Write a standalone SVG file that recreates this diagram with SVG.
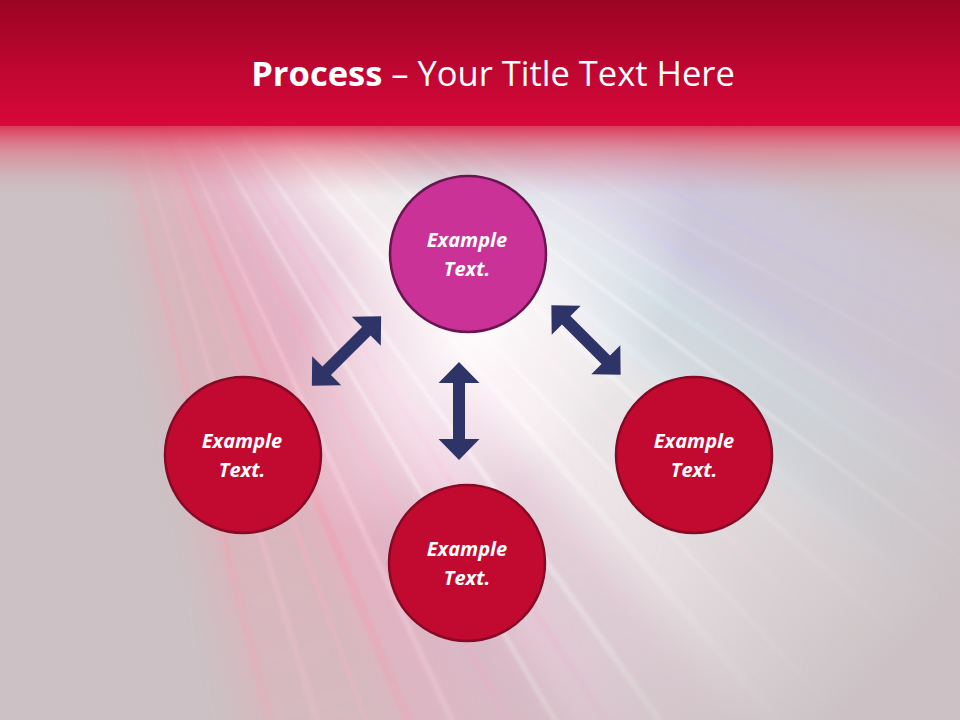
<svg xmlns="http://www.w3.org/2000/svg" width="960" height="720" viewBox="0 0 960 720">
  <defs>
    <linearGradient id="hdr" x1="0" y1="0" x2="0" y2="1">
      <stop offset="0" stop-color="#9b0423"/>
      <stop offset="0.5" stop-color="#bb0630"/>
      <stop offset="1" stop-color="#d8083a"/>
    </linearGradient>
    <linearGradient id="fade" x1="0" y1="0" x2="0" y2="1">
      <stop offset="0" stop-color="#dc2a4c" stop-opacity="0.95"/>
      <stop offset="0.35" stop-color="#e06478" stop-opacity="0.6"/>
      <stop offset="1" stop-color="#d8a0ac" stop-opacity="0"/>
    </linearGradient>
    <radialGradient id="rayfade" gradientUnits="userSpaceOnUse" cx="60" cy="-120" r="1150">
      <stop offset="0" stop-color="#fff"/>
      <stop offset="0.6" stop-color="#fff"/>
      <stop offset="0.8" stop-color="#999"/>
      <stop offset="1" stop-color="#000"/>
    </radialGradient>
    <mask id="raymask" maskUnits="userSpaceOnUse" x="0" y="0" width="960" height="720">
      <rect width="960" height="720" fill="url(#rayfade)"/>
    </mask>
    <radialGradient id="glow" cx="0.5" cy="0.5" r="0.5">
      <stop offset="0" stop-color="#ffffff" stop-opacity="0.85"/>
      <stop offset="0.5" stop-color="#fff6fa" stop-opacity="0.45"/>
      <stop offset="1" stop-color="#ffffff" stop-opacity="0"/>
    </radialGradient>
    <filter id="blur" x="-50%" y="-50%" width="200%" height="200%">
      <feGaussianBlur stdDeviation="18"/>
    </filter>
    <filter id="soft" x="-10%" y="-10%" width="120%" height="120%">
      <feGaussianBlur stdDeviation="1.5"/>
    </filter>
    <path id="arrow" d="M0,-49 L20.5,-28 L6,-28 L6,28 L20.5,28 L0,49 L-20.5,28 L-6,28 L-6,-28 L-20.5,-28 Z"/>
  </defs>
  <style>
    .node-red { fill: #c20a30; stroke: #860a26; stroke-width: 2.5; }
    .node-top { fill: #ca3298; stroke: #6a1450; stroke-width: 2.5; }
    .lbl { font-family: "Open Sans", "Liberation Sans", sans-serif; font-size: 20px; font-weight: bold; font-style: italic; fill: #ffffff; text-anchor: middle; }
    .title { font-family: "Open Sans", "Liberation Sans", sans-serif; font-size: 34.5px; fill: #ffffff; text-anchor: middle; }
    .conn { fill: #2f3468; }
  </style>

  <!-- background -->
  <rect width="960" height="720" fill="#ccc2c5"/>
  <g mask="url(#raymask)">
    <g transform="translate(60,-120)" filter="url(#blur)">
      <polygon points="0,0 1400,-170 1400,170" transform="rotate(71)" fill="#f4a0b0" opacity="0.35"/>
      <polygon points="0,0 1400,-147 1400,147" transform="rotate(62)" fill="#f6a8c8" opacity="0.5"/>
      <polygon points="0,0 1400,-147 1400,147" transform="rotate(53)" fill="#fbdcec" opacity="0.6"/>
      <polygon points="0,0 1400,-147 1400,147" transform="rotate(45)" fill="#ffffff" opacity="0.65"/>
      <polygon points="0,0 1400,-98 1400,98" transform="rotate(36)" fill="#d6eef6" opacity="0.6"/>
      <polygon points="0,0 1400,-122 1400,122" transform="rotate(28)" fill="#cdcdf0" opacity="0.5"/>
    </g>
    <g transform="translate(60,-120)" filter="url(#soft)">
      <polygon points="0,0 1400,-8 1400,8" transform="rotate(76)" fill="#ff9aa8" opacity="0.25"/>
      <polygon points="0,0 1400,-6 1400,6" transform="rotate(73)" fill="#f7c0d0" opacity="0.35"/>
      <polygon points="0,0 1400,-4 1400,4" transform="rotate(70)" fill="#ffb0c0" opacity="0.4"/>
      <polygon points="0,0 1400,-8 1400,8" transform="rotate(67.5)" fill="#ff8fa5" opacity="0.3"/>
      <polygon points="0,0 1400,-5 1400,5" transform="rotate(65)" fill="#fcd0e0" opacity="0.45"/>
      <polygon points="0,0 1400,-7 1400,7" transform="rotate(62)" fill="#f7a5c5" opacity="0.4"/>
      <polygon points="0,0 1400,-4 1400,4" transform="rotate(59.5)" fill="#ffffff" opacity="0.4"/>
      <polygon points="0,0 1400,-6 1400,6" transform="rotate(57)" fill="#f5b5d5" opacity="0.4"/>
      <polygon points="0,0 1400,-5 1400,5" transform="rotate(54.5)" fill="#ffffff" opacity="0.45"/>
      <polygon points="0,0 1400,-4 1400,4" transform="rotate(52)" fill="#f9d0e5" opacity="0.45"/>
      <polygon points="0,0 1400,-6 1400,6" transform="rotate(49.5)" fill="#ffffff" opacity="0.45"/>
      <polygon points="0,0 1400,-3 1400,3" transform="rotate(47)" fill="#ffffff" opacity="0.55"/>
      <polygon points="0,0 1400,-5 1400,5" transform="rotate(44.5)" fill="#fde8f0" opacity="0.45"/>
      <polygon points="0,0 1400,-4 1400,4" transform="rotate(42)" fill="#ffffff" opacity="0.45"/>
      <polygon points="0,0 1400,-6 1400,6" transform="rotate(39.5)" fill="#e0f2f8" opacity="0.45"/>
      <polygon points="0,0 1400,-3 1400,3" transform="rotate(37)" fill="#ffffff" opacity="0.45"/>
      <polygon points="0,0 1400,-5 1400,5" transform="rotate(35)" fill="#d5ecf5" opacity="0.45"/>
      <polygon points="0,0 1400,-4 1400,4" transform="rotate(33)" fill="#e8e0f5" opacity="0.45"/>
      <polygon points="0,0 1400,-6 1400,6" transform="rotate(31)" fill="#c8c8f0" opacity="0.4"/>
      <polygon points="0,0 1400,-3 1400,3" transform="rotate(29)" fill="#d8d8f5" opacity="0.4"/>
      <polygon points="0,0 1400,-5 1400,5" transform="rotate(27)" fill="#c5c0ec" opacity="0.35"/>
      <polygon points="0,0 1400,-3 1400,3" transform="rotate(25)" fill="#d0c8ee" opacity="0.3"/>
      <polygon points="0,0 1400,-4 1400,4" transform="rotate(23)" fill="#c8c0e8" opacity="0.25"/>
    </g>
  </g>
  <ellipse cx="485" cy="320" rx="260" ry="150" transform="rotate(-48 485 320)" fill="url(#glow)"/>

  <!-- header -->
  <rect x="0" y="124" width="960" height="72" fill="url(#fade)"/>
  <rect x="0" y="0" width="960" height="126" fill="url(#hdr)"/>
  <text class="title" x="493" y="86"><tspan font-weight="bold">Process</tspan> – Your Title Text Here</text>

  <!-- connectors -->
  <g id="connectors" class="conn">
    <use href="#arrow" transform="translate(459,411)"/>
    <use href="#arrow" transform="translate(346.5,351) rotate(45)"/>
    <use href="#arrow" transform="translate(586,340) rotate(-45)"/>
  </g>

  <!-- nodes -->
  <g id="node-top">
    <circle class="node-top" cx="468" cy="254" r="78"/>
    <text class="lbl" x="467" y="247">Example</text>
    <text class="lbl" x="467" y="276">Text.</text>
  </g>
  <g id="node-left">
    <circle class="node-red" cx="243" cy="455" r="78"/>
    <text class="lbl" x="242" y="448">Example</text>
    <text class="lbl" x="242" y="477">Text.</text>
  </g>
  <g id="node-right">
    <circle class="node-red" cx="694" cy="455" r="78"/>
    <text class="lbl" x="694" y="448">Example</text>
    <text class="lbl" x="694" y="477">Text.</text>
  </g>
  <g id="node-bottom">
    <circle class="node-red" cx="467" cy="563" r="78"/>
    <text class="lbl" x="467" y="556">Example</text>
    <text class="lbl" x="467" y="585">Text.</text>
  </g>
</svg>
